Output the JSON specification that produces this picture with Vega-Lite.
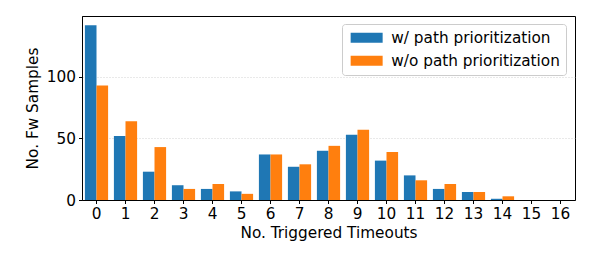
{
  "$schema": "https://vega.github.io/schema/vega-lite/v6.json",
  "width": 493,
  "height": 184,
  "autosize": {"type": "none"},
  "padding": {"left": 82, "top": 16, "right": 21, "bottom": 56},
  "background": "white",
  "config": {
    "font": "DejaVu Sans",
    "view": {"stroke": "black", "strokeWidth": 1},
    "axis": {
      "labelFont": "DejaVu Sans",
      "titleFont": "DejaVu Sans",
      "labelFontSize": 15.3,
      "titleFontSize": 15.3,
      "titleFontWeight": "normal",
      "labelColor": "black",
      "titleColor": "black",
      "domainColor": "black",
      "tickColor": "black",
      "tickSize": 3.5
    }
  },
  "data": {
    "values": [
      {"t": 0, "series": "w/ path prioritization", "v": 142},
      {"t": 0, "series": "w/o path prioritization", "v": 93},
      {"t": 1, "series": "w/ path prioritization", "v": 52},
      {"t": 1, "series": "w/o path prioritization", "v": 64},
      {"t": 2, "series": "w/ path prioritization", "v": 23},
      {"t": 2, "series": "w/o path prioritization", "v": 43},
      {"t": 3, "series": "w/ path prioritization", "v": 12},
      {"t": 3, "series": "w/o path prioritization", "v": 9},
      {"t": 4, "series": "w/ path prioritization", "v": 9},
      {"t": 4, "series": "w/o path prioritization", "v": 13},
      {"t": 5, "series": "w/ path prioritization", "v": 7},
      {"t": 5, "series": "w/o path prioritization", "v": 5},
      {"t": 6, "series": "w/ path prioritization", "v": 37},
      {"t": 6, "series": "w/o path prioritization", "v": 37},
      {"t": 7, "series": "w/ path prioritization", "v": 27},
      {"t": 7, "series": "w/o path prioritization", "v": 29},
      {"t": 8, "series": "w/ path prioritization", "v": 40},
      {"t": 8, "series": "w/o path prioritization", "v": 44},
      {"t": 9, "series": "w/ path prioritization", "v": 53},
      {"t": 9, "series": "w/o path prioritization", "v": 57},
      {"t": 10, "series": "w/ path prioritization", "v": 32},
      {"t": 10, "series": "w/o path prioritization", "v": 39},
      {"t": 11, "series": "w/ path prioritization", "v": 20},
      {"t": 11, "series": "w/o path prioritization", "v": 16},
      {"t": 12, "series": "w/ path prioritization", "v": 9},
      {"t": 12, "series": "w/o path prioritization", "v": 13},
      {"t": 13, "series": "w/ path prioritization", "v": 6.5},
      {"t": 13, "series": "w/o path prioritization", "v": 6.5},
      {"t": 14, "series": "w/ path prioritization", "v": 1},
      {"t": 14, "series": "w/o path prioritization", "v": 3},
      {"t": 15, "series": "w/ path prioritization", "v": 0},
      {"t": 15, "series": "w/o path prioritization", "v": 0},
      {"t": 16, "series": "w/ path prioritization", "v": 0},
      {"t": 16, "series": "w/o path prioritization", "v": 0}
    ]
  },
  "mark": {"type": "bar"},
  "encoding": {
    "x": {
      "field": "t",
      "type": "ordinal",
      "sort": "ascending",
      "scale": {"paddingInner": 0.2, "paddingOuter": 0.1},
      "axis": {
        "title": "No. Triggered Timeouts",
        "labelAngle": 0,
        "labelPadding": 3,
        "titlePadding": 4,
        "grid": false
      }
    },
    "xOffset": {
      "field": "series",
      "type": "nominal",
      "scale": {"domain": ["w/ path prioritization", "w/o path prioritization"], "paddingInner": 0, "paddingOuter": 0}
    },
    "y": {
      "field": "v",
      "type": "quantitative",
      "scale": {"domain": [0, 149.5], "nice": false},
      "axis": {
        "title": "No. Fw Samples",
        "values": [0, 50, 100],
        "grid": true,
        "gridColor": "#b0b0b0",
        "gridDash": [1, 2],
        "gridWidth": 0.8,
        "gridOpacity": 0.7,
        "labelPadding": 3,
        "titlePadding": 6
      }
    },
    "color": {
      "field": "series",
      "type": "nominal",
      "scale": {"domain": ["w/ path prioritization", "w/o path prioritization"], "range": ["#1f77b4", "#ff7f0e"]},
      "legend": {
        "title": null,
        "orient": "none",
        "legendX": 260,
        "legendY": 8,
        "symbolType": "M-3.2,-1L3.2,-1L3.2,1L-3.2,1Z",
        "symbolSize": 100,
        "symbolOffset": 11,
        "symbolStrokeWidth": 0,
        "labelOffset": 17,
        "labelLimit": 400,
        "labelFontSize": 15.3,
        "labelFont": "DejaVu Sans",
        "labelColor": "black",
        "rowPadding": 7,
        "padding": 6,
        "fillColor": "rgba(255,255,255,0.8)",
        "strokeColor": "#cccccc",
        "cornerRadius": 3
      }
    }
  }
}
